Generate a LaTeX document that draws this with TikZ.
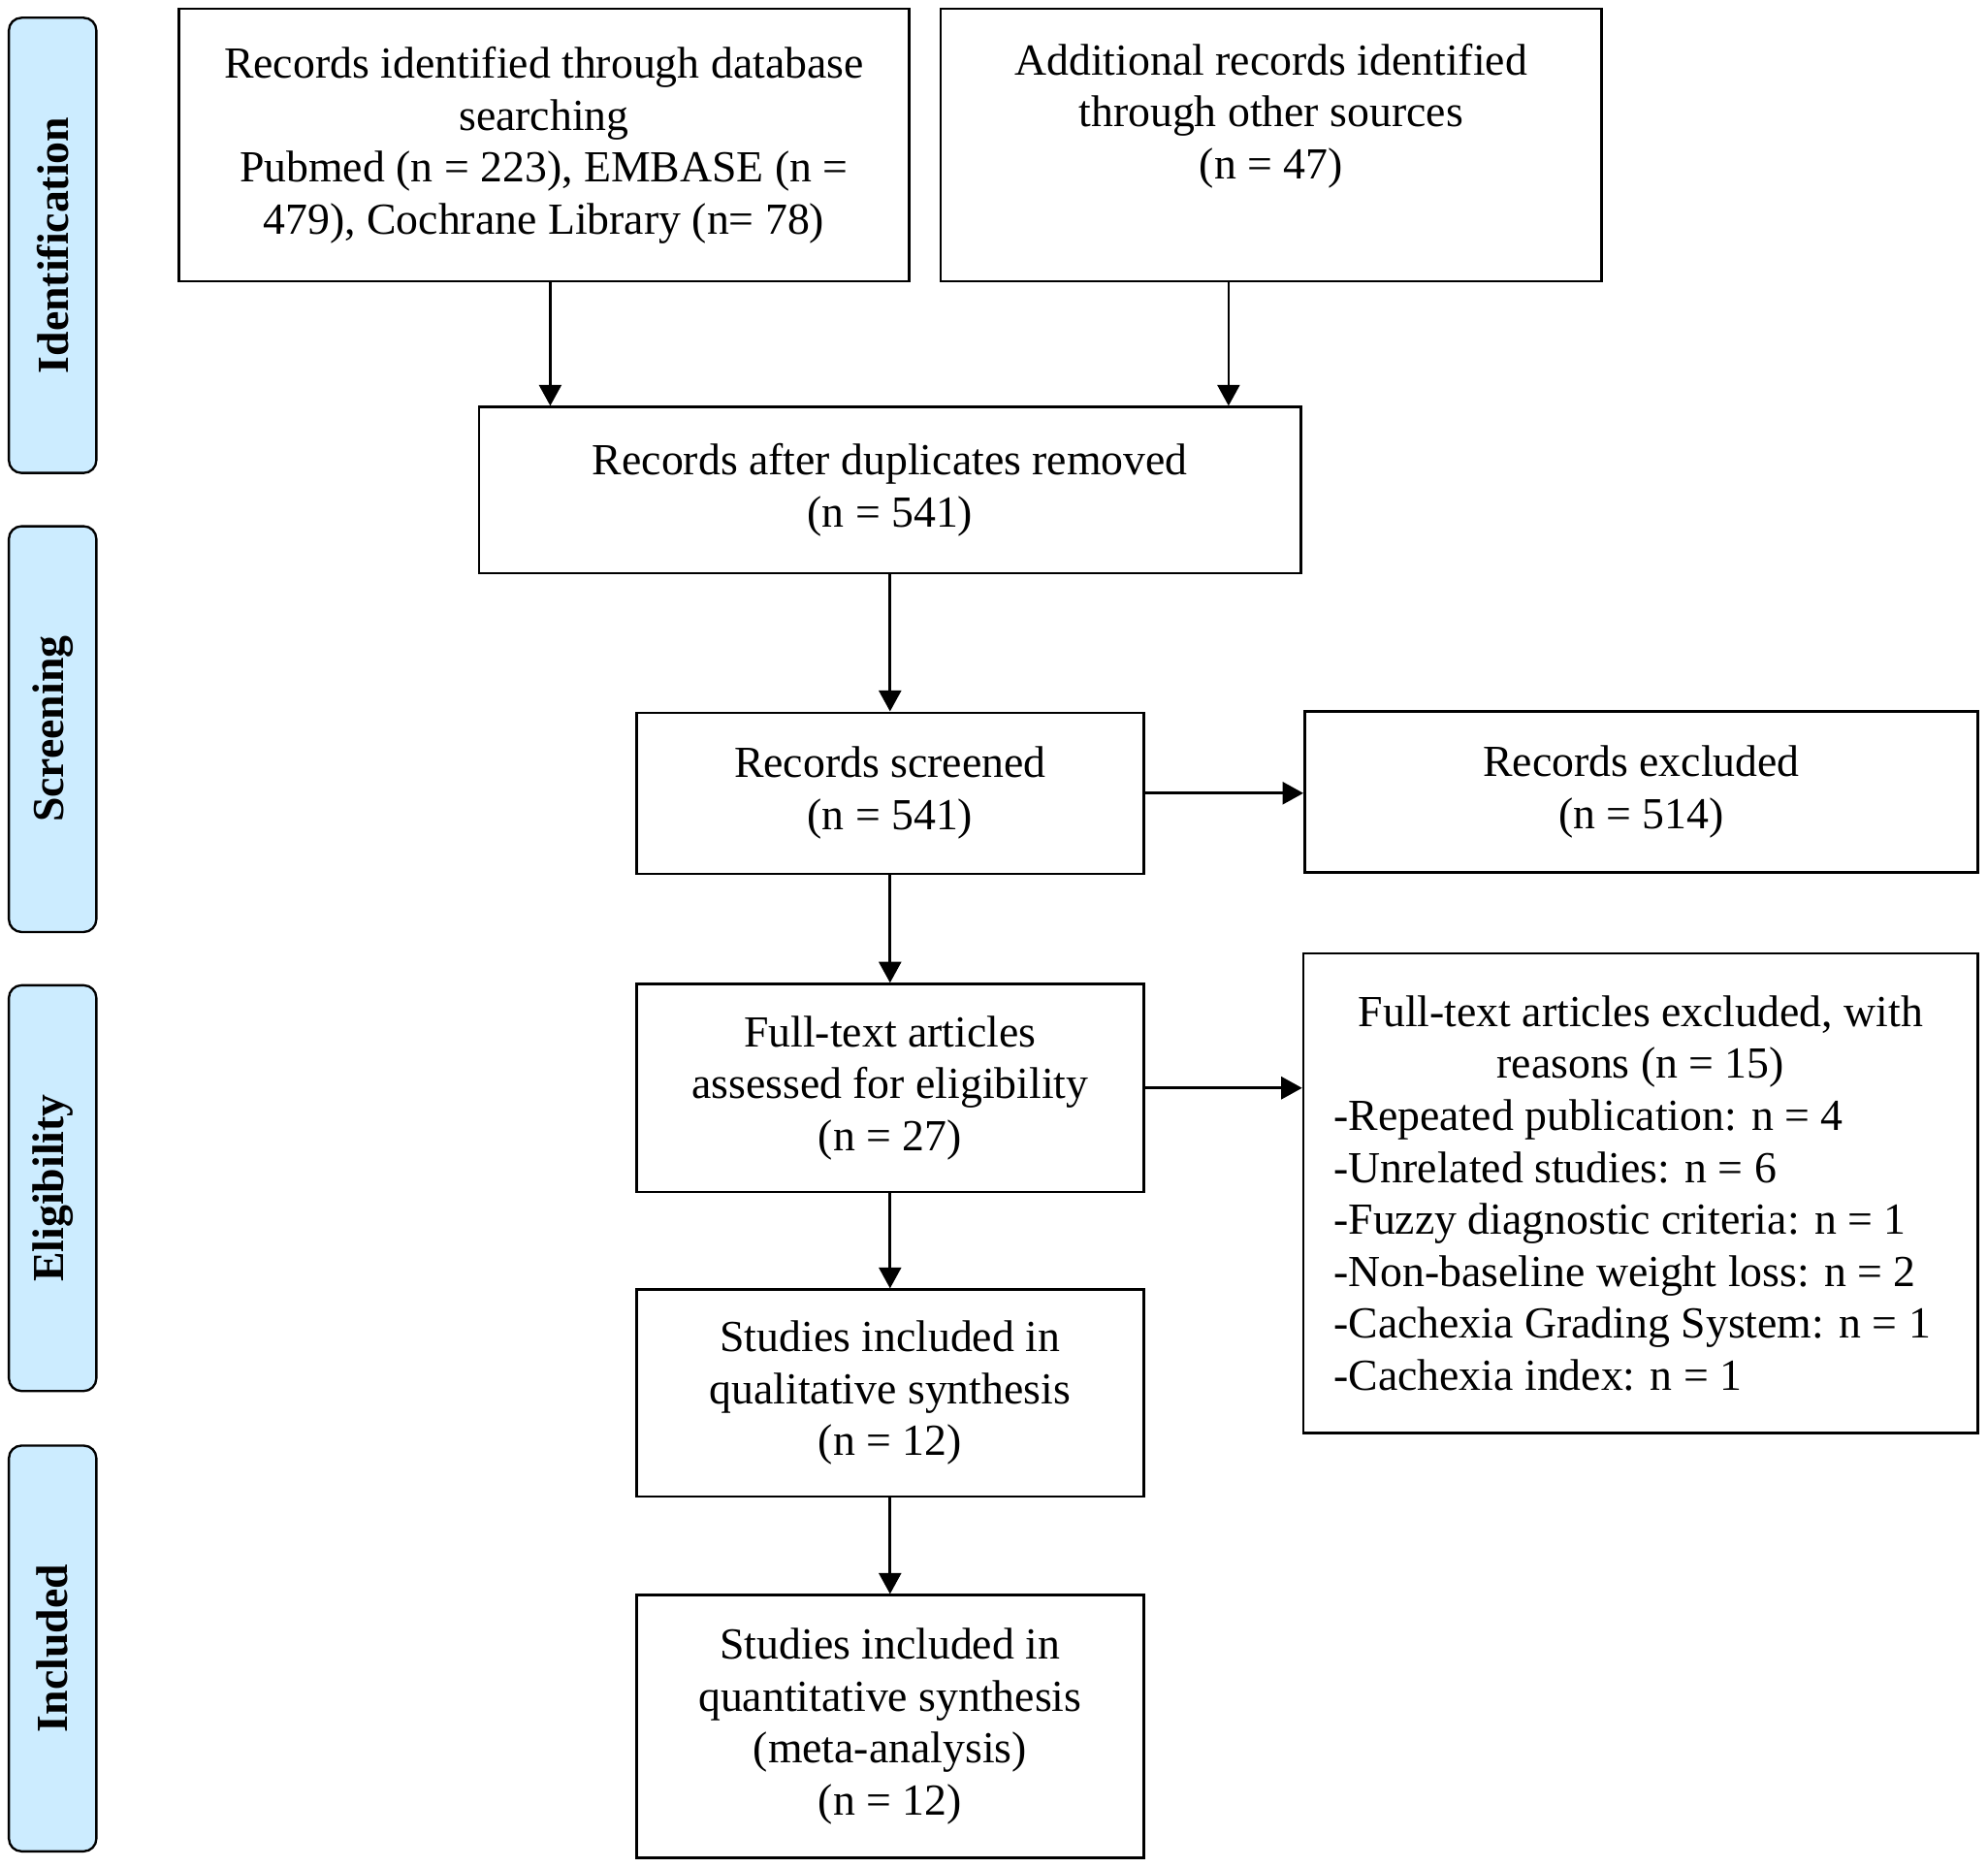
\documentclass[tikz,border=0pt]{standalone}
\usepackage{fontspec}
\setmainfont{Liberation Serif}
\usetikzlibrary{arrows.meta,calc}
\definecolor{barblue}{RGB}{204,236,255}
\begin{document}
\begin{tikzpicture}[x=1pt,y=-1pt,
  box/.style={draw, line width=1.9pt, rectangle, inner sep=0pt, align=center, font=\fontsize{35}{41}\selectfont},
  bar/.style={draw, line width=1.8pt, rounded corners=10pt, fill=barblue, inner sep=0pt},
  bartext/.style={rotate=90, font=\fontsize{35}{41}\selectfont\bfseries},
  arr/.style={line width=2.1pt, -{Triangle[length=16.5pt,width=17.5pt]}},
  harr/.style={arr, line width=2.5pt}]
\useasboundingbox (0,0) rectangle (1568,1473);
% side bars
\node[bar, minimum width=69pt, minimum height=359pt] (p1) at (41.5,193.5) {};
\node[bartext] (t1) at (p1.center) {Identification};
\node[bar, minimum width=69pt, minimum height=320pt] (p2) at (41.5,575) {};
\node[bartext] (t2) at (p2.center) {Screening};
\node[bar, minimum width=69pt, minimum height=320pt] (p3) at (41.5,937) {};
\node[bartext] (t3) at (p3.center) {Eligibility};
\node[bar, minimum width=69pt, minimum height=320pt] (p4) at (41.5,1300) {};
\node[bartext] (t4) at (p4.center) {Included};
% boxes
\node[box, minimum width=576pt, minimum height=215pt] (b1) at (429,114.5)
  {Records identified through database\\searching\\Pubmed (n = 223), EMBASE (n =\\479), Cochrane Library (n= 78)};
\node[box, minimum width=521pt, minimum height=215pt] (b2) at (1002.5,114.5)
  {Additional records identified\\through other sources\\(n = 47)\\\strut};
\node[box, minimum width=648pt, minimum height=131pt] (b3) at (702,386.5)
  {Records after duplicates removed\\(n = 541)};
\node[box, minimum width=400pt, minimum height=127pt] (b4) at (702,625.5)
  {Records screened\\(n = 541)};
\node[box, minimum width=531pt, minimum height=127pt] (b5) at (1294.5,624.5)
  {Records excluded\\(n = 514)};
\node[box, minimum width=400pt, minimum height=164pt] (b6) at (702,858)
  {Full-text articles\\assessed for eligibility\\(n = 27)};
\node[box, minimum width=532pt, minimum height=378pt, align=left] (b7) at (1294,941)
  {\parbox{484pt}{\fontsize{35}{41}\selectfont\centering Full-text articles excluded, with\\reasons (n = 15)\par
   \raggedright -Repeated publication: n = 4\\-Unrelated studies: n = 6\\-Fuzzy diagnostic criteria: n = 1\\-Non-baseline weight loss: n = 2\\-Cachexia Grading System: n = 1\\-Cachexia index: n = 1\par}};
\node[box, minimum width=400pt, minimum height=163pt] (b8) at (702,1098.5)
  {Studies included in\\qualitative synthesis\\(n = 12)};
\node[box, minimum width=400pt, minimum height=207pt] (b9) at (702,1361.5)
  {Studies included in\\quantitative synthesis\\(meta-analysis)\\(n = 12)};
% connectors
\coordinate (a1) at (434,0);
\coordinate (a2) at (969,0);
\draw[arr] (b1.south -| a1) -- (b3.north -| a1);
\draw[arr] (b2.south -| a2) -- (b3.north -| a2);
\draw[arr] (b3.south) -- (b4.north);
\draw[harr] (b4.east) -- (b4.east -| b5.west);
\draw[arr] (b4.south) -- (b6.north);
\draw[harr] (b6.east) -- (b6.east -| b7.west);
\draw[arr] (b6.south) -- (b8.north);
\draw[arr] (b8.south) -- (b9.north);
\end{tikzpicture}
\end{document}
